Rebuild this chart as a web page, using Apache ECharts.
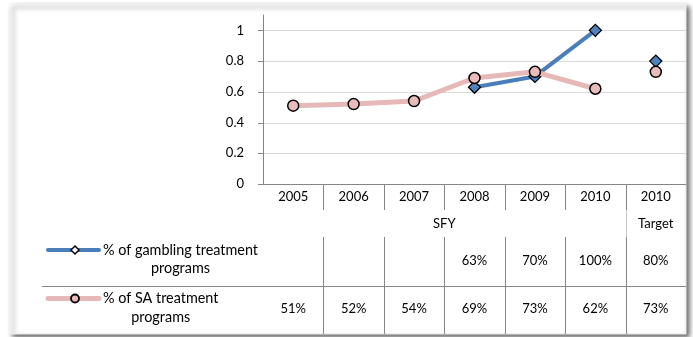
<!DOCTYPE html>
<html><head><meta charset="utf-8">
<script src="https://cdn.jsdelivr.net/npm/echarts@6/dist/echarts.min.js"></script>
<style>html,body{margin:0;padding:0;background:#fff}#c{width:693px;height:337px}</style>
</head><body><div id="c"></div>
<script>
// ---- data ----
const categories = ['2005', '2006', '2007', '2008', '2009', '2010', '2010'];
const periodLabels = ['SFY', 'SFY', 'SFY', 'SFY', 'SFY', 'SFY', 'Target'];
const seriesNames = ['% of gambling treatment programs', '% of SA treatment programs'];
const gambling = [null, null, null, 0.63, 0.70, 1.00, 0.80];
const saPrograms = [0.51, 0.52, 0.54, 0.69, 0.73, 0.62, 0.73];
const yTicks = [0, 0.2, 0.4, 0.6, 0.8, 1];

// ---- style ----
const FONT = 'Lato, "Open Sans", sans-serif';
const FS = 13;
const FS_NAME = 14.4;
const BLUE = '#4a7ebb', BLUE_FILL = '#4f81bd', PINK = '#e6b9b8', PINK_FILL = '#e9bcbb';
const GRID_C = '#d9d9d9', AXIS_C = '#868686', TXT = '#000';
const lastIdx = categories.length - 1;

const chart = echarts.init(document.getElementById('c'), null, {renderer: 'canvas', width: 693, height: 337});

const diamondStyle = {color: BLUE_FILL, borderColor: '#000', borderWidth: 1.3, opacity: 1};
const circleStyle = {color: PINK_FILL, borderColor: '#000', borderWidth: 1.5, opacity: 1};

chart.setOption({
  animation: false,
  textStyle: {fontFamily: FONT},
  grid: {left: 263, right: 7, top: 15, bottom: 153},
  xAxis: {
    type: 'category', data: categories, boundaryGap: true,
    axisLine: {lineStyle: {color: AXIS_C, width: 1}},
    axisTick: {show: false},
    axisLabel: {color: TXT, fontSize: FS, fontFamily: FONT, margin: 6, interval: 0}
  },
  yAxis: {
    type: 'value', min: 0, max: 1.1, interval: 0.2,
    axisLine: {show: true, lineStyle: {color: AXIS_C, width: 1}},
    axisTick: {show: false},
    splitLine: {show: false},
    axisLabel: {color: TXT, fontSize: FS, fontFamily: FONT, margin: 19, showMaxLabel: false,
      formatter: v => (yTicks.some(t => Math.abs(t - v) < 1e-9) ? String(+v.toFixed(1)) : '')}
  },
  series: [
    {type: 'line', name: seriesNames[0], data: gambling.slice(0, lastIdx), symbol: 'diamond', symbolSize: 12,
     showAllSymbol: true, lineStyle: {color: BLUE, width: 4}, itemStyle: diamondStyle, z: 3, silent: true},
    {type: 'scatter', name: seriesNames[0], data: [[lastIdx, gambling[lastIdx]]], symbol: 'diamond', symbolSize: 12,
     itemStyle: diamondStyle, z: 3, silent: true},
    {type: 'line', name: seriesNames[1], data: saPrograms.slice(0, lastIdx), symbol: 'circle', symbolSize: 11,
     showAllSymbol: true, lineStyle: {color: PINK, width: 5}, itemStyle: circleStyle, z: 4, silent: true},
    {type: 'scatter', name: seriesNames[1], data: [[lastIdx, saPrograms[lastIdx]]], symbol: 'circle', symbolSize: 11,
     itemStyle: circleStyle, z: 4, silent: true}
  ]
});

function measure(t, fs) {
  const c = document.createElement('canvas').getContext('2d');
  c.font = fs + 'px ' + FONT;
  return c.measureText(t).width;
}
const fmtPct = v => (v == null ? '' : Math.round(v * 100) + '%');
const r5 = v => Math.round(v) + 0.5;

function buildTable() {
  const px = i => chart.convertToPixel({xAxisIndex: 0}, i);
  const py = v => chart.convertToPixel({yAxisIndex: 0}, v);
  const step = px(1) - px(0);
  const x0 = px(0) - step / 2;
  const x1 = x0 + step * categories.length;
  const yAx = py(0);
  const yearBottom = yAx + 26;
  const groupBottom = yAx + 53;
  const row1Mid = yAx + 77;
  const rowDiv = yAx + 101.5;
  const row2Mid = yAx + 125;
  const tableBottom = yAx + 150;
  const tableLeft = 42;
  const g = [];
  const line = (xa, ya, xb, yb, color, z) => g.push({type: 'line', silent: true, z: z || 1,
    shape: {x1: xa, y1: ya, x2: xb, y2: yb}, style: {stroke: color || AXIS_C, lineWidth: 1}});
  const text = (t, x, y, fs) => g.push({type: 'text', silent: true, z: 5, x: x, y: y,
    style: {text: t, fill: TXT, font: (fs || FS) + 'px ' + FONT, align: 'center', verticalAlign: 'middle'}});

  // frame with shadow
  g.push({type: 'rect', silent: true, z: -10, shape: {x: 10, y: 4, width: x1 - 10, height: tableBottom - 4},
    style: {fill: '#fff', stroke: '#f0f0f0', lineWidth: 1, shadowBlur: 5, shadowOffsetX: 3, shadowOffsetY: 3,
      shadowColor: 'rgba(0,0,0,0.6)'}});

  // gridlines and y ticks
  yTicks.forEach(v => {
    const y = r5(py(v));
    if (v > 0) line(x0 + 1, y, x1, y, GRID_C, -1);
    line(x0 - 5, y, x0, y, AXIS_C, 1);
  });

  // column separators
  for (let i = 1; i < categories.length; i++) {
    const x = r5(x0 + step * i);
    line(x, yAx, x, yearBottom, AXIS_C);
    if (periodLabels[i] !== periodLabels[i - 1]) line(x, yearBottom, x, groupBottom, '#c8c8c8');
    line(x, groupBottom, x, tableBottom, AXIS_C);
  }
  line(tableLeft, r5(rowDiv), x1, r5(rowDiv), AXIS_C);

  // period group labels
  let s = 0;
  for (let i = 1; i <= categories.length; i++) {
    if (i === categories.length || periodLabels[i] !== periodLabels[s]) {
      text(periodLabels[s], (px(s) + px(i - 1)) / 2, yAx + 40);
      s = i;
    }
  }

  // value rows
  [[gambling, row1Mid], [saPrograms, row2Mid]].forEach(([arr, y]) => {
    arr.forEach((v, i) => text(fmtPct(v), px(i), y));
  });

  // legend keys + names
  const keys = [
    {color: BLUE, width: 4, symbol: 'diamond', fill: '#fff', y: row1Mid - 11},
    {color: PINK, width: 5, symbol: 'circle', fill: PINK_FILL, y: row2Mid - 10.5}
  ];
  keys.forEach((k, idx) => {
    g.push({type: 'line', silent: true, z: 4, shape: {x1: 48, y1: k.y, x2: 99, y2: k.y},
      style: {stroke: k.color, lineWidth: k.width, lineCap: 'round'}});
    if (k.symbol === 'diamond') {
      g.push({type: 'polygon', silent: true, z: 5, shape: {points: [[75, k.y - 4], [79, k.y], [75, k.y + 4], [71, k.y]]},
        style: {fill: k.fill, stroke: '#000', lineWidth: 1.5}});
    } else {
      g.push({type: 'circle', silent: true, z: 5, shape: {cx: 75, cy: k.y, r: 4},
        style: {fill: k.fill, stroke: '#000', lineWidth: 1.8}});
    }
    const lines = seriesNames[idx].replace(/ (\S+)$/, '\n$1').split('\n');
    const w = Math.max(...lines.map(l => measure(l, FS_NAME)));
    const cx = 103 + w / 2;
    lines.forEach((ln, j) => text(ln, cx, k.y + j * 18.5, FS_NAME));
  });

  chart.setOption({graphic: {elements: g}});
}
buildTable();
</script></body></html>
